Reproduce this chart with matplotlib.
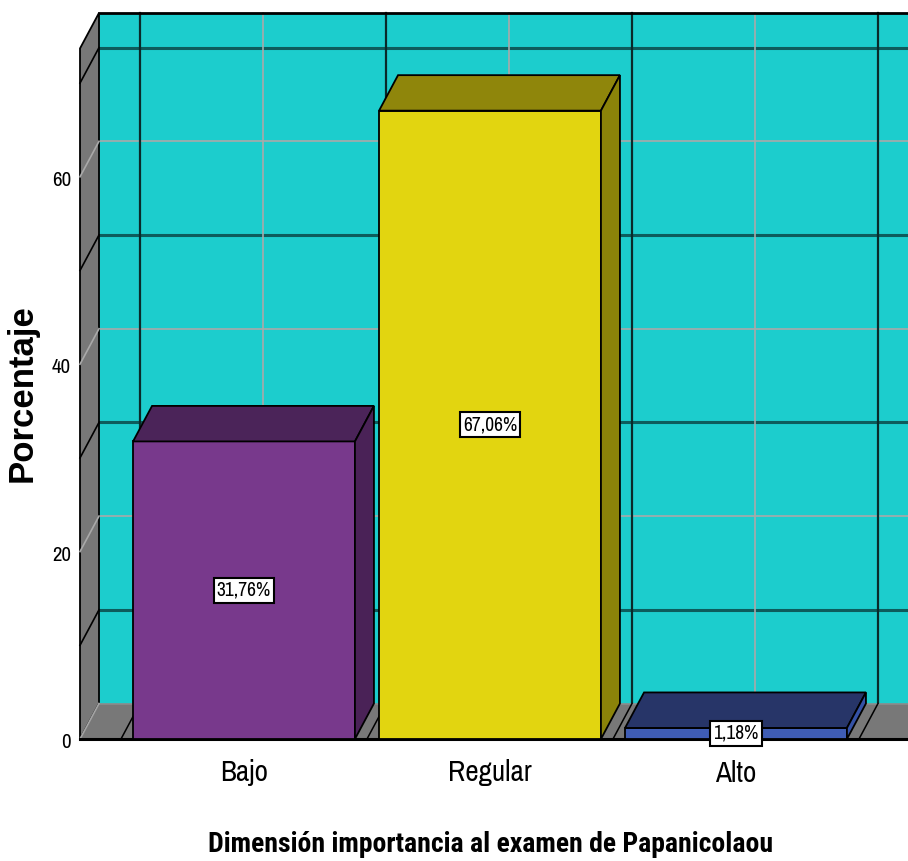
import matplotlib.pyplot as plt
from matplotlib.patches import Polygon, Rectangle

# datos del gráfico
categorias = ['Bajo', 'Regular', 'Alto']
porcentajes = [31.76, 67.06, 1.18]
etiquetas = ['31,76%', '67,06%', '1,18%']
ticks_y = [0, 20, 40, 60]
lineas_claras = [20, 40, 60]
lineas_oscuras = [10, 30, 50, 70]

colores_frente = ['#78398c', '#e2d510', '#3f5db5']
colores_techo = ['#4b2459', '#8f860b', '#273568']
colores_lado = ['#4a2257', '#8b8309', '#3552a6']

CIAN = '#1ccdcd'
GRIS = '#787878'
NARROW = ['Archivo Narrow', 'Roboto Condensed', 'DejaVu Sans']
NARROW_B = ['Roboto Condensed', 'Archivo Narrow', 'DejaVu Sans']

# escala: pixeles por unidad en cada eje
PX_X = 246.0
PX_Y = 9.37
W, H = 908, 861
Y_CERO = 739  # fila de pixel del valor 0

DX = 19 / PX_X      # profundidad 3D en x
DY = 35.5 / PX_Y    # profundidad 3D en y
X0 = -164 / PX_X    # esquina frontal izquierda de la caja
XR = 2.8            # el fondo sigue más allá del borde
YTOP = 73.7
ANCHO = 0.902

fig = plt.figure(figsize=(W / 100, H / 100), dpi=100)
ax = fig.add_axes([0, 0, 1, 1])
ax.set_xlim(-244 / PX_X, (W - 244) / PX_X)
ax.set_ylim(-(H - Y_CERO) / PX_Y, Y_CERO / PX_Y)
ax.axis('off')

# pared del fondo
ax.add_patch(Polygon([(X0 + DX, DY), (XR, DY), (XR, YTOP + DY), (X0 + DX, YTOP + DY)],
                     closed=True, facecolor=CIAN, edgecolor='none', zorder=1))
for v in lineas_claras:
    ax.plot([X0 + DX, XR], [v + DY, v + DY], color='#a9a9a9', lw=1.2, zorder=2)
for v in lineas_oscuras:
    ax.plot([X0 + DX, XR], [v + DY, v + DY], color='#0d5c5c', lw=2.2, zorder=2)
for i in range(3):
    ax.plot([i + DX, i + DX], [DY, YTOP + DY], color='#a9a9a9', lw=1.2, zorder=2)
for i in range(4):
    b = i - 0.5
    ax.plot([b + DX, b + DX], [DY, YTOP + DY], color='#0a2a2a', lw=1.6, zorder=2)
ax.plot([X0 + DX, XR], [YTOP + DY, YTOP + DY], color='black', lw=2, zorder=3)

# pared izquierda
ax.add_patch(Polygon([(X0, 0), (X0, YTOP), (X0 + DX, YTOP + DY), (X0 + DX, DY)],
                     closed=True, facecolor=GRIS, edgecolor='black', lw=1.3, zorder=3))
for v in lineas_claras:
    ax.plot([X0, X0 + DX], [v, v + DY], color='#a9a9a9', lw=1.2, zorder=4)
for v in lineas_oscuras:
    ax.plot([X0, X0 + DX], [v, v + DY], color='black', lw=1.2, zorder=4)

# piso
ax.add_patch(Polygon([(X0, 0), (XR, 0), (XR, DY), (X0 + DX, DY)],
                     closed=True, facecolor=GRIS, edgecolor='none', zorder=3))
ax.plot([X0 + DX, XR], [DY, DY], color='#8c8c8c', lw=1.2, zorder=4)
ax.plot([X0, X0 + DX], [0, DY], color='#a5a5a5', lw=1.2, zorder=4)
for i in range(4):
    b = i - 0.5
    ax.plot([b, b + DX], [0, DY], color='black', lw=1.1, zorder=4)
ax.plot([X0, XR], [0, 0], color='black', lw=2.2, zorder=4)

# barras 3D
for i, v in enumerate(porcentajes):
    l, r = i - ANCHO / 2, i + ANCHO / 2
    ax.add_patch(Rectangle((l, 0), ANCHO, v, facecolor=colores_frente[i],
                           edgecolor='black', lw=1.3, zorder=5))
    ax.add_patch(Polygon([(l, v), (r, v), (r + DX, v + DY), (l + DX, v + DY)],
                         closed=True, facecolor=colores_techo[i], edgecolor='black',
                         lw=1.3, zorder=5))
    ax.add_patch(Polygon([(r, 0), (r + DX, DY), (r + DX, v + DY), (r, v)],
                         closed=True, facecolor=colores_lado[i], edgecolor='black',
                         lw=1.3, zorder=5))
    ax.text(i, v / 2, etiquetas[i], ha='center', va='center', fontsize=14,
            family=NARROW, zorder=7,
            bbox=dict(boxstyle='square,pad=0.15', facecolor='white',
                      edgecolor='black', lw=1.5))

# etiquetas de los ejes
for v in ticks_y:
    ax.text(X0 - 9 / PX_X, v - 0.4, str(v), ha='right', va='center',
            fontsize=15, family=NARROW)
for i, c in enumerate(categorias):
    ax.text(i, -(773 - Y_CERO) / PX_Y, c, ha='center', va='center',
            fontsize=21, family=NARROW)

ax.text((491 - 244) / PX_X, -(845 - Y_CERO) / PX_Y,
        'Dimensión importancia al examen de Papanicolaou',
        ha='center', va='center', fontsize=20, fontweight='bold', family=NARROW_B)
ax.text((22 - 244) / PX_X, (Y_CERO - 393) / PX_Y, 'Porcentaje', rotation=90,
        ha='center', va='center', fontsize=25, fontweight='bold',
        family=['Liberation Sans', 'DejaVu Sans'])

fig.savefig('out.png', dpi=100)
